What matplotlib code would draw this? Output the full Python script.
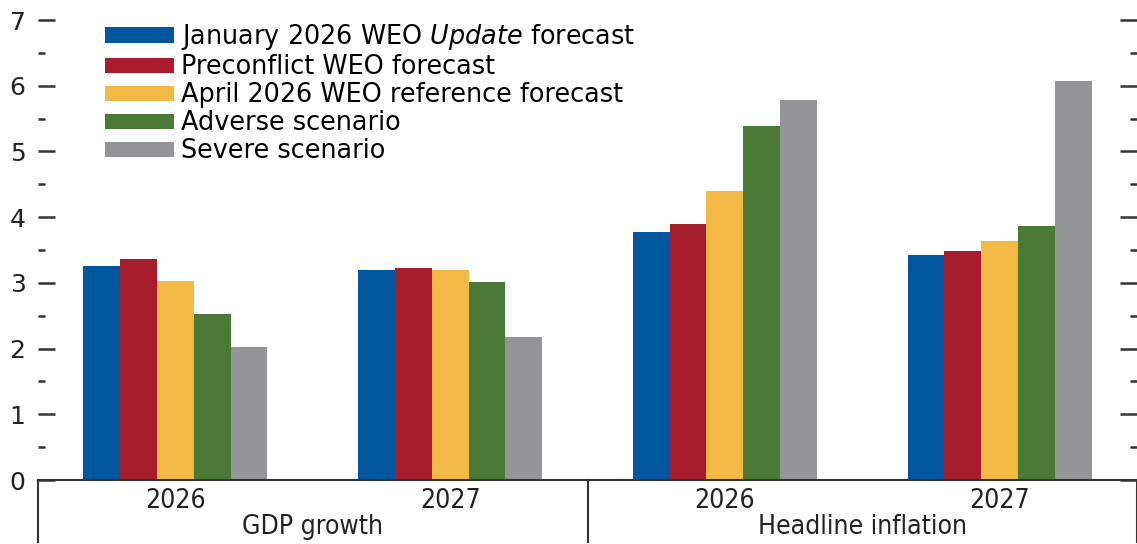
import matplotlib
matplotlib.use("Agg")
import matplotlib.pyplot as plt
import matplotlib.transforms as mtransforms
import numpy as np

# Datos
grupos = ["2026", "2027", "2026", "2027"]
paneles = ["GDP growth", "Headline inflation"]
series = [
    "January 2026 WEO $\\mathit{Update}$ forecast",
    "Preconflict WEO forecast",
    "April 2026 WEO reference forecast",
    "Adverse scenario",
    "Severe scenario",
]
enero = [3.26, 3.20, 3.78, 3.42]
preconflicto = [3.37, 3.22, 3.89, 3.48]
abril = [3.03, 3.20, 4.40, 3.64]
adverso = [2.53, 3.02, 5.38, 3.87]
severo = [2.02, 2.17, 5.78, 6.07]
colores = ["#0057a0", "#a81d2e", "#f2b945", "#4a7a35", "#939598"]

plt.rcParams["font.family"] = ["DejaVu Sans"]
plt.rcParams["mathtext.fontset"] = "custom"
plt.rcParams["mathtext.it"] = "DejaVu Sans:italic"

fig = plt.figure(figsize=(11.37, 5.44), dpi=100)
ax = fig.add_axes([38 / 1137, 64 / 544, 1099 / 1137, 460 / 544])

x = np.arange(len(grupos))
ancho = 0.134
valores = [enero, preconflicto, abril, adverso, severo]
for i, (vals, lab, col) in enumerate(zip(valores, series, colores)):
    ax.bar(x + (i - 2) * ancho, vals, ancho, color=col, label=lab)

ax.set_xlim(-0.5, 3.5)
ax.set_ylim(0, 7)
ax.set_yticks(range(0, 8))
ax.set_yticks(np.arange(0.5, 7, 1), minor=True)
ax.set_xticks([])
for s in ["top", "left", "right"]:
    ax.spines[s].set_visible(False)
ax.spines["bottom"].set_linewidth(1.5)
ax.spines["bottom"].set_color("#333333")
ax.tick_params(axis="y", which="major", direction="in", length=12, width=1.8,
               labelsize=18, pad=9, right=True, colors="#333333",
               labelcolor="#222222")
ax.tick_params(axis="y", which="minor", direction="in", length=5, width=1.8,
               right=True, colors="#333333")

# Etiquetas de categorías
trans = mtransforms.blended_transform_factory(ax.transData, ax.transAxes)
for xi, g in zip(x, grupos):
    ax.text(xi, -0.017, g, transform=trans, ha="center", va="top",
            fontsize=19, fontstretch="condensed", color="#222222")
for xc, p in zip([0.5, 2.5], paneles):
    ax.text(xc, -0.075, p, transform=trans, ha="center", va="top",
            fontsize=19, fontstretch="condensed", color="#222222")
for xs in [-0.5, 1.5, 3.5]:
    ax.plot([xs, xs], [0, -0.135], transform=trans, color="#333333",
            linewidth=1.5, clip_on=False)

ax.legend(loc="upper left", bbox_to_anchor=(0.049, 1.023), frameon=False,
          fontsize=18.4, handlelength=2.72, handleheight=0.55,
          handletextpad=0.27, labelspacing=0.08, borderpad=0)

plt.savefig("out.png", dpi=100)
